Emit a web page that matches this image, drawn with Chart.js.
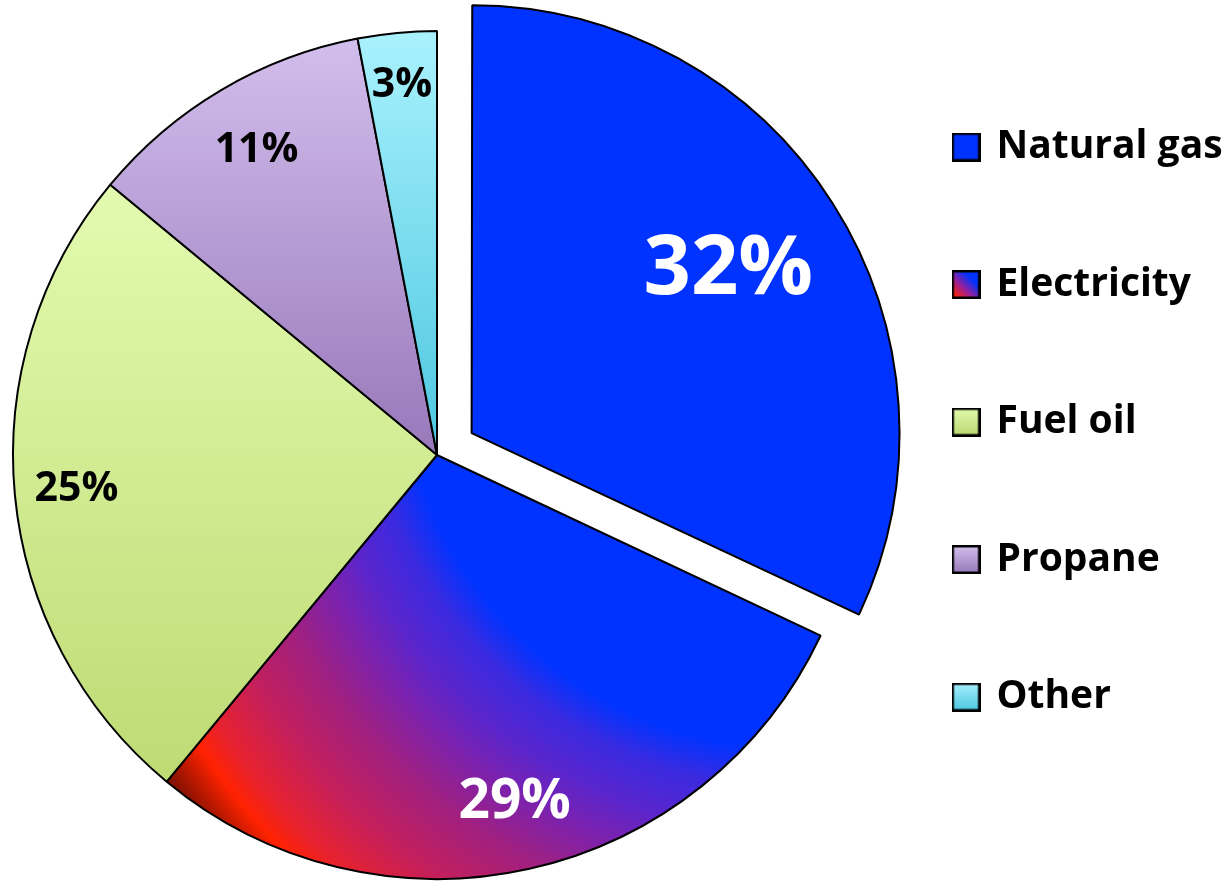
<!DOCTYPE html>
<html>
<head>
<meta charset="utf-8">
<script src="https://cdn.jsdelivr.net/npm/chart.js@4.4.0/dist/chart.umd.min.js"></script>
<style>
html, body { margin: 0; padding: 0; background: #fff; }
#wrap { width: 1228px; height: 881px; }
</style>
</head>
<body>
<div id="wrap"><canvas id="pie"></canvas></div>
<script>
// Heating fuel shares
const categories = ['Natural gas', 'Electricity', 'Fuel oil', 'Propane', 'Other'];
const shares = [32, 29, 25, 11, 3];

// --- Styles ---
const FONT = '"Open Sans", "DejaVu Sans", sans-serif';
const pieRadius = 424;
const sliceOffsets = [41, 0, 0, 0, 0];       // visible pull-out in px
const flatColors = ['#0033ff', '#a01f8a', '#d2ed98', '#b69ad6', '#7cdcee'];
const labelColors = ['#ffffff', '#ffffff', '#000000', '#000000', '#000000'];
const labelSizes = [83, 55, 41, 41, 41];
const labelRadial = [0.717, 0.84, 0.854, 0.836, 0.876];

const legendSize = 39;
const legendGap = 137.5;

function sliceFill(context) {
    const chart = context.chart;
    const area = chart.chartArea;
    const i = context.dataIndex;
    if (!area) return flatColors[i];
    const ctx = chart.ctx;
    const cx = (area.left + area.right) / 2;
    const cy = (area.top + area.bottom) / 2;
    const R = pieRadius;
    let g;
    if (i === 0) return '#0033ff';
    if (i === 1) {
        // red -> blue sweep radiating from the upper right
        const gx = cx + 0.856 * R, gy = cy - 0.248 * R;
        g = ctx.createRadialGradient(gx, gy, 0, gx, gy, 1.816 * R);
        g.addColorStop(0, '#0033ff');
        g.addColorStop(0.52, '#0033ff');
        g.addColorStop(0.57, '#3a2ae0');
        g.addColorStop(0.63, '#5a25cc');
        g.addColorStop(0.68, '#7a22b0');
        g.addColorStop(0.75, '#a02080');
        g.addColorStop(0.83, '#c41f5c');
        g.addColorStop(0.9, '#e8222e');
        g.addColorStop(0.935, '#ff2200');
        g.addColorStop(0.985, '#8c1200');
        g.addColorStop(1, '#801000');
        return g;
    }
    if (i === 2) {
        g = ctx.createLinearGradient(0, cy - 0.65 * R, 0, cy + 0.76 * R);
        g.addColorStop(0, '#e3fbb0');
        g.addColorStop(1, '#bedb74');
        return g;
    }
    if (i === 3) {
        g = ctx.createLinearGradient(0, cy - R, 0, cy);
        g.addColorStop(0, '#d3bfed');
        g.addColorStop(1, '#9878ba');
        return g;
    }
    g = ctx.createLinearGradient(0, cy - R, 0, cy);
    g.addColorStop(0, '#a9f2fd');
    g.addColorStop(1, '#4cc6e0');
    return g;
}

// small swatch canvases for the legend
function makeSwatch(i) {
    const c = document.createElement('canvas');
    c.width = 29; c.height = 29;
    const x = c.getContext('2d');
    let g;
    if (i === 1) {
        g = x.createLinearGradient(3, 26, 20, 9);
        g.addColorStop(0, '#ff2200');
        g.addColorStop(0.5, '#9a1f9a');
        g.addColorStop(1, '#0033ff');
    } else if (i === 0) {
        g = '#0033ff';
    } else {
        const tops = ['', '', '#e0f9aa', '#d0bceb', '#a3eefb'];
        const bots = ['', '', '#bcd975', '#9a7cbc', '#4fc8e2'];
        g = x.createLinearGradient(0, 2, 0, 27);
        g.addColorStop(0, tops[i]);
        g.addColorStop(1, bots[i]);
    }
    x.fillStyle = g;
    x.fillRect(1, 1, 27, 27);
    x.lineWidth = 2.5;
    x.strokeStyle = '#000';
    x.strokeRect(1.25, 1.25, 26.5, 26.5);
    return c;
}
const swatches = categories.map((_, i) => makeSwatch(i));

// work out the side padding so the legend and pie sit where they should
const measure = document.createElement('canvas').getContext('2d');
measure.font = `bold ${legendSize}px ${FONT}`;
const widest = Math.max(...categories.map(c => measure.measureText(c).width));
const legendPad = legendGap - legendSize;
const legendX = 955;
const padRight = 1228 - 10 - (22 + legendSize / 2) - widest - legendX;
const padLeft = 2 * 437 - (legendX - legendPad);

const pctLabels = {
    id: 'pctLabels',
    afterDatasetsDraw(chart) {
        const ctx = chart.ctx;
        const meta = chart.getDatasetMeta(0);
        const ds = chart.data.datasets[0];
        meta.data.forEach((arc, i) => {
            const p = arc.getProps(['x', 'y', 'startAngle', 'endAngle', 'outerRadius'], true);
            const mid = (p.startAngle + p.endAngle) / 2;
            const r = p.outerRadius * labelRadial[i] + sliceOffsets[i];
            ctx.save();
            ctx.font = `bold ${labelSizes[i]}px ${FONT}`;
            ctx.fillStyle = labelColors[i];
            ctx.textAlign = 'center';
            ctx.textBaseline = 'middle';
            ctx.fillText(ds.data[i] + '%', p.x + Math.cos(mid) * r, p.y + Math.sin(mid) * r);
            ctx.restore();
        });
    }
};

new Chart(document.getElementById('pie'), {
    type: 'pie',
    data: {
        labels: categories,
        datasets: [{
            data: shares,
            backgroundColor: sliceFill,
            borderColor: '#000000',
            borderWidth: 2,
            // arc elements translate by offset / 4
            offset: sliceOffsets.map(o => o * 4),
            radius: pieRadius
        }]
    },
    options: {
        responsive: true,
        maintainAspectRatio: false,
        animation: false,
        events: [],
        layout: { padding: { top: 29, bottom: 0, left: padLeft, right: padRight } },
        plugins: {
            tooltip: { enabled: false },
            legend: {
                position: 'right',
                align: 'start',
                labels: {
                    usePointStyle: true,
                    pointStyleWidth: 22,
                    padding: legendPad,
                    color: '#000000',
                    font: { family: FONT, weight: 'bold', size: legendSize },
                    generateLabels: () => categories.map((c, i) => ({
                        text: c,
                        pointStyle: swatches[i],
                        fillStyle: '#000',
                        strokeStyle: '#000',
                        lineWidth: 0,
                        fontColor: '#000',
                        hidden: false,
                        index: i,
                        datasetIndex: 0
                    }))
                }
            }
        }
    },
    plugins: [pctLabels]
});
</script>
</body>
</html>
